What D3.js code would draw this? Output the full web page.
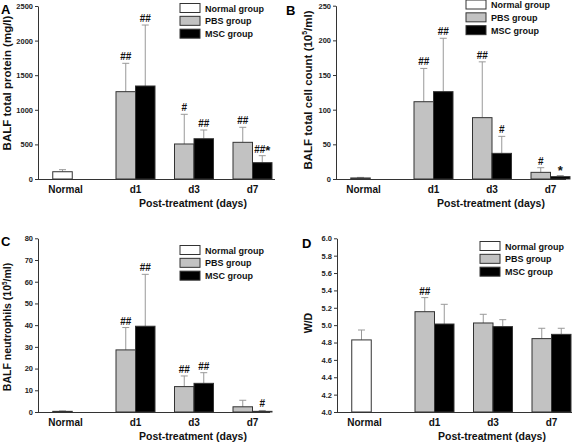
<!DOCTYPE html>
<html>
<head>
<meta charset="utf-8">
<script src="https://cdn.jsdelivr.net/npm/d3@7"></script>
<style>
  html, body { margin: 0; padding: 0; background: #fff; }
  svg { display: block; }
  text { font-family: "Liberation Sans", Arial, Helvetica, sans-serif; font-weight: bold; }
</style>
</head>
<body>
<svg id="chart" width="572" height="442"></svg>
<script>
// ---------------- data ----------------
const categories = ["Normal", "d1", "d3", "d7"];
const treatedDays = ["d1", "d3", "d7"];
const groups = ["Normal group", "PBS group", "MSC group"];
const xTitle = "Post-treatment (days)";

// A: BALF total protein (mg/l)
const proteinNormal = [105];
const proteinNormalSD = [30];
const proteinPBS = [1262, 506, 530];
const proteinPBSSD = [410, 429, 217];
const proteinMSC = [1344, 582, 236];
const proteinMSCSD = [881, 126, 101];
const proteinPBSMarks = ["##", "#", "##"];
const proteinMSCMarks = ["##", "##", "##*"];
const proteinTicks = [0, 500, 1000, 1500, 2000, 2500];

// B: BALF total cell count (10^5/ml)
const cellNormal = [1.5];
const cellNormalSD = [0.8];
const cellPBS = [111.5, 88.5, 9.6];
const cellPBSSD = [48, 80.5, 6.7];
const cellMSC = [126, 37, 3.4];
const cellMSCSD = [77, 24.5, 1.6];
const cellPBSMarks = ["##", "##", "#"];
const cellMSCMarks = ["##", "#", "*"];
const cellTicks = [0, 50, 100, 150, 200, 250];

// C: BALF neutrophils (10^5/ml)
const neutNormal = [0.3];
const neutNormalSD = [0.2];
const neutPBS = [28.6, 11.7, 2.4];
const neutPBSSD = [10.3, 4.9, 3.0];
const neutMSC = [39.5, 13.2, 0.3];
const neutMSCSD = [23.9, 4.9, 0.4];
const neutPBSMarks = ["##", "##", ""];
const neutMSCMarks = ["##", "##", "#"];
const neutTicks = [0, 10, 20, 30, 40, 50, 60, 70, 80];

// D: W/D
const wdNormal = [4.83];
const wdNormalSD = [0.114];
const wdPBS = [5.155, 5.025, 4.845];
const wdPBSSD = [0.162, 0.10, 0.119];
const wdMSC = [5.013, 4.983, 4.894];
const wdMSCSD = [0.227, 0.08, 0.07];
const wdPBSMarks = ["##", "", ""];
const wdMSCMarks = ["", "", ""];
const wdTicks = [4.0, 4.2, 4.4, 4.6, 4.8, 5.0, 5.2, 5.4, 5.6, 5.8, 6.0];

// ---------------- layout / style ----------------
const fills = { "Normal group": "#ffffff", "PBS group": "#c2c2c2", "MSC group": "#000000" };
const barStroke = "#333";
const errColor = "#999";
const axisColor = "#333";

const panels = [
  { letter: "A", lx: 1, ly: 14,
    left: 38, right: 275, top: 6, bottom: 179, domain: [0, 2500], ticks: proteinTicks, fmt: d3.format("d"),
    title: ["BALF total protein (mg/l)"], titleX: 11, titleY: 83, titleSize: 11.5,
    legX: 180, legY: 3.5,
    normal: proteinNormal, normalSD: proteinNormalSD,
    pbs: proteinPBS, pbsSD: proteinPBSSD, msc: proteinMSC, mscSD: proteinMSCSD,
    pbsMarks: proteinPBSMarks, mscMarks: proteinMSCMarks },
  { letter: "B", lx: 286, ly: 15,
    left: 336, right: 566, top: 5.7, bottom: 179, domain: [0, 250], ticks: cellTicks, fmt: d3.format("d"),
    title: ["BALF total cell count (10", "5", "/ml)"], titleX: 312, titleY: 90, titleSize: 11.5,
    legX: 466, legY: 0,
    normal: cellNormal, normalSD: cellNormalSD,
    pbs: cellPBS, pbsSD: cellPBSSD, msc: cellMSC, mscSD: cellMSCSD,
    pbsMarks: cellPBSMarks, mscMarks: cellMSCMarks },
  { letter: "C", lx: 1, ly: 246,
    left: 38, right: 270, top: 238.3, bottom: 412, domain: [0, 80], ticks: neutTicks, fmt: d3.format("d"),
    title: ["BALF neutrophils (10", "5", "/ml)"], titleX: 11, titleY: 327, titleSize: 10.5,
    legX: 180, legY: 245.5,
    normal: neutNormal, normalSD: neutNormalSD,
    pbs: neutPBS, pbsSD: neutPBSSD, msc: neutMSC, mscSD: neutMSCSD,
    pbsMarks: neutPBSMarks, mscMarks: neutMSCMarks },
  { letter: "D", lx: 302, ly: 248,
    left: 337, right: 572, top: 238.3, bottom: 412, domain: [4, 6], ticks: wdTicks, fmt: d3.format(".1f"),
    title: ["W/D"], titleX: 312, titleY: 323, titleSize: 10.5,
    legX: 480, legY: 241.5,
    normal: wdNormal, normalSD: wdNormalSD,
    pbs: wdPBS, pbsSD: wdPBSSD, msc: wdMSC, mscSD: wdMSCSD,
    pbsMarks: wdPBSMarks, mscMarks: wdMSCMarks }
];

const barW = 19.5;
const firstGroupPos = 39;     // position of first category relative to axis
const lastGroupPos = 214.5;   // position of last category relative to axis
const normalShift = -14.5;    // Normal group is set slightly closer to the axis

const svg = d3.select("#chart");

panels.forEach(p => {
  const g = svg.append("g");
  const y = d3.scaleLinear().domain(p.domain).range([p.bottom, p.top]);
  const xCat = d3.scalePoint().domain(categories).range([p.left + firstGroupPos, p.left + lastGroupPos]);
  const xSub = d3.scaleBand().domain(["PBS group", "MSC group"]).range([-barW, barW]);
  const cx = c => xCat(c) + (c === "Normal" ? normalShift : 0);

  const normalData = p.normal.map((v, i) => ({ cat: "Normal", grp: "Normal group", v, sd: p.normalSD[i], mark: "" }));
  const treated = [];
  treatedDays.forEach((d, i) => {
    treated.push({ cat: d, grp: "PBS group", v: p.pbs[i], sd: p.pbsSD[i], mark: p.pbsMarks[i] });
    treated.push({ cat: d, grp: "MSC group", v: p.msc[i], sd: p.mscSD[i], mark: p.mscMarks[i] });
  });
  const all = normalData.concat(treated);
  const bx = d => d.grp === "Normal group" ? cx(d.cat) - barW / 2 : cx(d.cat) + xSub(d.grp);
  const bc = d => bx(d) + barW / 2;

  // error bars (upward only)
  const eb = g.append("g");
  eb.selectAll("line.v").data(all).join("line")
    .attr("x1", bc).attr("x2", bc)
    .attr("y1", d => y(d.v)).attr("y2", d => y(d.v + d.sd))
    .attr("stroke", errColor).attr("stroke-width", 1);
  eb.selectAll("line.c").data(all).join("line")
    .attr("x1", d => bc(d) - 3.5).attr("x2", d => bc(d) + 3.5)
    .attr("y1", d => y(d.v + d.sd)).attr("y2", d => y(d.v + d.sd))
    .attr("stroke", errColor).attr("stroke-width", 1);

  g.append("g").selectAll("rect").data(all).join("rect")
    .attr("x", bx).attr("width", barW)
    .attr("y", d => y(d.v)).attr("height", d => y(p.domain[0]) - y(d.v))
    .attr("fill", d => fills[d.grp]).attr("stroke", barStroke).attr("stroke-width", 1);

  // significance marks
  const marks = g.append("g").selectAll("text").data(all.filter(d => d.mark)).join("text")
    .attr("x", bc).attr("y", d => y(d.v + d.sd) - 3)
    .attr("text-anchor", "middle").attr("font-size", 10).attr("fill", "#111");
  marks.each(function (d) {
    const el = d3.select(this);
    const hashes = d.mark.replace(/\*/g, "");
    const stars = d.mark.replace(/#/g, "");
    if (hashes) el.append("tspan").text(hashes);
    if (stars) el.append("tspan").attr("font-size", 13).attr("dy", 2).text(stars);
  });

  // y axis
  const ax = g.append("g").attr("transform", `translate(${p.left},0)`)
    .call(d3.axisLeft(y).tickValues(p.ticks).tickFormat(p.fmt).tickSize(3).tickSizeOuter(0).tickPadding(2));
  ax.select(".domain").attr("stroke", axisColor);
  ax.selectAll(".tick line").attr("stroke", axisColor);
  ax.selectAll(".tick text").attr("font-size", 7.5).attr("font-weight", "bold")
    .attr("font-family", "Liberation Sans, Arial, sans-serif").attr("fill", "#222");

  // x axis line
  g.append("line").attr("x1", p.left).attr("x2", p.right)
    .attr("y1", p.bottom + 0.5).attr("y2", p.bottom + 0.5)
    .attr("stroke", axisColor).attr("stroke-width", 1);

  // category labels
  g.append("g").selectAll("text").data(categories).join("text")
    .attr("x", d => cx(d) + (d === "Normal" ? 3 : 0)).attr("y", p.bottom + 14)
    .attr("text-anchor", "middle").attr("font-size", 10).attr("fill", "#111")
    .text(d => d);

  g.append("text").attr("x", p.left + 155).attr("y", p.bottom + 27.5)
    .attr("text-anchor", "middle").attr("font-size", 10.5).attr("fill", "#111")
    .text(xTitle);

  // y title
  const t = g.append("text")
    .attr("transform", `translate(${p.titleX},${p.titleY}) rotate(-90)`)
    .attr("text-anchor", "middle").attr("font-size", p.titleSize).attr("fill", "#111");
  if (p.title.length === 1) {
    t.text(p.title[0]);
  } else {
    t.append("tspan").text(p.title[0]);
    t.append("tspan").attr("font-size", p.titleSize * 0.6).attr("dy", -p.titleSize * 0.4).text(p.title[1]);
    t.append("tspan").attr("dy", p.titleSize * 0.4).text(p.title[2]);
  }

  // panel letter
  g.append("text").attr("x", p.lx).attr("y", p.ly).attr("font-size", 13).attr("fill", "#000").text(p.letter);

  // legend
  const leg = g.append("g").attr("transform", `translate(${p.legX},${p.legY})`);
  const ly = d3.scaleBand().domain(groups).range([0, 38.5]);
  leg.selectAll("rect").data(groups).join("rect")
    .attr("x", 0).attr("y", d => ly(d)).attr("width", 20).attr("height", 9)
    .attr("fill", d => fills[d]).attr("stroke", barStroke).attr("stroke-width", 1);
  leg.selectAll("text").data(groups).join("text")
    .attr("x", 25).attr("y", d => ly(d) + 8)
    .attr("font-size", 9).attr("fill", "#111")
    .text(d => d);
});
</script>
</body>
</html>
